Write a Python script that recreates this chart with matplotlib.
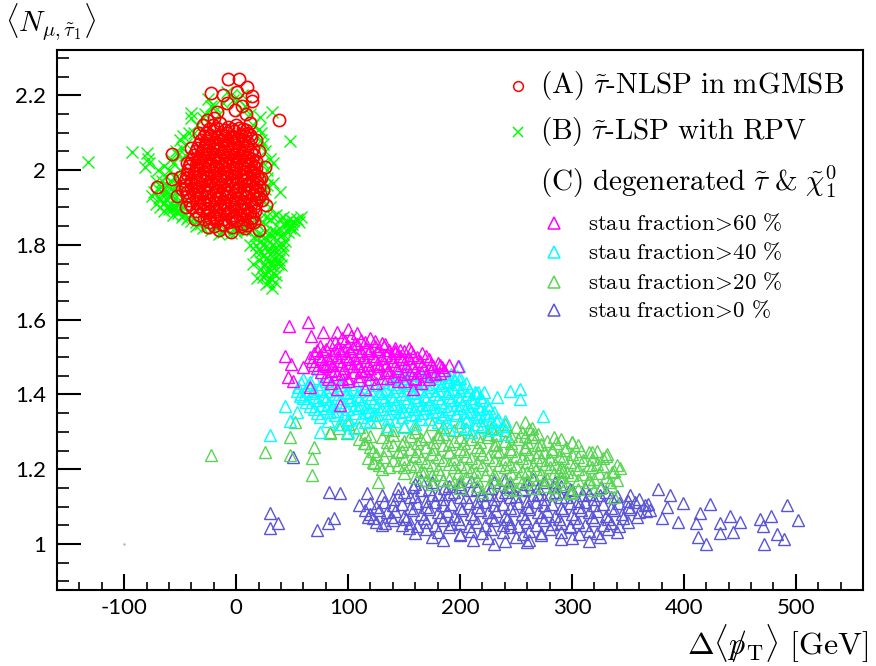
import matplotlib
matplotlib.use("Agg")
import matplotlib.pyplot as plt
from matplotlib.lines import Line2D
from matplotlib.ticker import MultipleLocator

plt.rcParams['mathtext.fontset'] = 'cm'

# ---------------- data (x = Delta<pT> [GeV], y = <N>) ----------------
red_A = [
    (-7,2.243),(3,2.243),(-22,2.206),(-12,2.202),(1,2.209),(10,2.223),(14,2.198),(14,2.184),(38,2.133),
    (-71,1.955),(-57,2.042),(27,1.906),(-8,2.178),(-17,2.156),(-1,2.160),(12,2.126),(-26,2.134),(18,2.080),
    (26,2.009),(24,1.947),(20,1.840),(-5,1.835),(-25,1.848),(-37,1.870),(-53,1.930),(-50,1.982),(-57,1.975),
    (-44,2.02),(-40,2.06),(-33,2.10),(5,2.17),(-20,2.14),(20,2.05),(22,1.98),(23,1.92),(16,1.86),(8,1.845),
    (-15,1.84),(-45,1.90),(-48,1.95),(-30,2.12),(9,2.15),
    (-21,2.12),(-14,2.125),(-7,2.115),(0,2.12),(6,2.11),
    (-27,2.10),(-20,2.105),(-13,2.095),(-8,2.10),(-2,2.105),(4,2.095),(10,2.10),
    (-31,2.08),(-25,2.085),(-18,2.075),(-12,2.08),(-5,2.085),(1,2.075),(7,2.08),(13,2.085),
    (-35,2.06),(-28,2.065),(-21,2.055),(-15,2.06),(-9,2.065),(-3,2.055),(3,2.06),(9,2.065),(15,2.055),
    (-38,2.04),(-31,2.045),(-25,2.035),(-19,2.04),(-13,2.045),(-7,2.035),(-1,2.04),(5,2.045),(11,2.035),(16,2.04),
    (-41,2.02),(-34,2.025),(-28,2.015),(-22,2.02),(-16,2.025),(-10,2.015),(-4,2.02),(2,2.025),(8,2.015),(13,2.02),(18,2.025),
    (-43,2.00),(-36,2.005),(-30,1.995),(-24,2.00),(-18,2.005),(-12,1.995),(-6,2.00),(0,2.005),(6,1.995),(12,2.00),(18,2.005),
    (-45,1.98),(-38,1.985),(-32,1.975),(-26,1.98),(-20,1.985),(-14,1.975),(-8,1.98),(-2,1.985),(4,1.975),(10,1.98),(16,1.985),(20,1.975),
    (-46,1.96),(-40,1.965),(-33,1.955),(-27,1.96),(-21,1.965),(-15,1.955),(-9,1.96),(-3,1.965),(3,1.955),(9,1.96),(15,1.965),(20,1.955),
    (-44,1.94),(-37,1.945),(-31,1.935),(-25,1.94),(-19,1.945),(-13,1.935),(-7,1.94),(-1,1.945),(5,1.935),(11,1.94),(17,1.945),(21,1.935),
    (-42,1.92),(-36,1.925),(-30,1.915),(-24,1.92),(-18,1.925),(-12,1.915),(-6,1.92),(0,1.925),(6,1.915),(12,1.92),(18,1.925),
    (-39,1.90),(-32,1.905),(-26,1.895),(-20,1.90),(-14,1.905),(-8,1.895),(-2,1.90),(4,1.905),(10,1.895),(16,1.90),
    (-33,1.88),(-26,1.885),(-20,1.875),(-14,1.88),(-8,1.885),(-2,1.875),(4,1.88),(10,1.885),(15,1.875),
    (-24,1.86),(-18,1.865),(-12,1.855),(-6,1.86),(0,1.865),(6,1.855),(12,1.86),
]
red_A_more = [
    (-24,2.11),(-17,2.112),(-10,2.108),(-4,2.11),(3,2.113),(9,2.107),
    (-29,2.09),(-23,2.093),(-16,2.088),(-10,2.09),(-4,2.092),(2,2.087),(8,2.09),(12,2.093),
    (-33,2.07),(-27,2.072),(-20,2.068),(-14,2.07),(-7,2.073),(-1,2.067),(5,2.07),(11,2.072),
    (-36,2.05),(-30,2.053),(-23,2.048),(-17,2.05),(-11,2.052),(-5,2.047),(1,2.05),(7,2.053),(13,2.048),
    (-39,2.03),(-33,2.032),(-27,2.028),(-21,2.03),(-15,2.033),(-9,2.027),(-3,2.03),(3,2.032),(9,2.028),(14,2.03),
    (-42,2.01),(-36,2.013),(-30,2.008),(-24,2.01),(-18,2.012),(-12,2.007),(-6,2.01),(0,2.013),(6,2.008),(11,2.01),(16,2.012),
    (-44,1.99),(-38,1.992),(-32,1.988),(-26,1.99),(-20,1.993),(-14,1.987),(-8,1.99),(-2,1.992),(4,1.988),(10,1.99),(15,1.993),(19,1.987),
    (-46,1.97),(-40,1.973),(-34,1.968),(-28,1.97),(-22,1.972),(-16,1.967),(-10,1.97),(-4,1.973),(2,1.968),(8,1.97),(14,1.972),(19,1.967),
    (-46,1.95),(-40,1.952),(-34,1.948),(-28,1.95),(-22,1.953),(-16,1.947),(-10,1.95),(-4,1.952),(2,1.948),(8,1.95),(14,1.953),(19,1.947),
    (-44,1.93),(-38,1.933),(-32,1.928),(-26,1.93),(-20,1.932),(-14,1.927),(-8,1.93),(-2,1.933),(4,1.928),(10,1.93),(16,1.932),(20,1.927),
    (-41,1.91),(-35,1.912),(-29,1.908),(-23,1.91),(-17,1.913),(-11,1.907),(-5,1.91),(1,1.912),(7,1.908),(13,1.91),(18,1.913),
    (-36,1.89),(-30,1.893),(-24,1.888),(-18,1.89),(-12,1.892),(-6,1.887),(0,1.89),(6,1.893),(12,1.888),(17,1.89),
    (-29,1.87),(-23,1.872),(-17,1.868),(-11,1.87),(-5,1.873),(1,1.867),(7,1.87),(13,1.872),
    (-20,1.85),(-12,1.852),(-4,1.848),(4,1.85),(10,1.852),
]

green_B = [
    (-132,2.022),(-93,2.049),(-80,2.045),(-78,2.018),(-81,2.009),(-79,2.030),(48,2.078),(-40,2.152),(-40,2.140),
    (-3,2.187),(32,2.156),(21,2.143),(39,1.942),(33,1.965),(5,2.20),(-20,2.17),(-35,2.12),(-38,2.10),(-45,2.07),
    (-30,2.14),(-75,1.93),(-72,1.91),(-68,1.90),(-64,1.89),(-60,1.895),(-56,1.88),(-52,1.885),(-48,1.875),
    (-44,1.87),(-40,1.865),(-36,1.86),(-70,1.95),(-66,1.94),(-62,1.92),(-58,1.91),(-54,1.90),(-50,1.92),
    (-66,1.97),(-62,1.96),(-58,1.95),(-55,1.98),(-60,2.00),(-56,2.02),(-52,2.04),(-48,2.06),(-50,2.00),
    (-64,2.01),(-70,2.00),(-72,1.97),(-42,2.10),(-32,1.855),(-26,1.85),(-18,1.845),(-10,1.84),(-2,1.845),
    (4,1.85),(12,1.855),(-15,1.83),(-5,1.832),(8,1.84),(22,1.92),(26,1.95),(28,1.98),(24,2.02),(26,2.05),
    (22,2.08),(20,2.11),(30,1.90),(28,2.00),(33,2.02),(-28,2.15),(-22,2.17),(-12,2.18),(-5,2.20),(2,2.19),
    (8,2.17),(12,2.15),(-15,2.15),(5,2.16),(-8,2.21),(15,2.12),(-25,2.19),
    (18,1.86),(24,1.86),(30,1.87),(36,1.88),(42,1.875),(48,1.87),(54,1.87),(58,1.875),(50,1.855),(44,1.85),
    (38,1.845),(32,1.84),(26,1.835),(20,1.83),(16,1.82),(22,1.81),(28,1.815),(34,1.82),(40,1.825),(46,1.835),
    (52,1.84),(20,1.79),(26,1.795),(32,1.80),(38,1.80),(44,1.81),(24,1.77),(30,1.775),(36,1.78),(42,1.785),
    (20,1.76),(26,1.75),(32,1.755),(38,1.76),(22,1.735),(28,1.73),(34,1.74),(40,1.745),(24,1.715),(30,1.71),
    (36,1.72),(19,1.71),(27,1.695),(32,1.685),(35,1.70),(15,1.75),(18,1.78),(12,1.80),(14,1.84),(-60,1.93),
    (-50,1.96),(-46,2.04),(-68,1.92),(-40,1.88),(-54,1.94),
    (-73,1.94),(-69,1.925),(-65,1.91),(-61,1.905),(-57,1.895),(-53,1.89),(-49,1.895),(-47,1.88),(-43,1.875),
    (-67,1.955),(-63,1.945),(-59,1.935),(-55,1.925),(-51,1.91),(-45,1.92),(-63,1.985),(-59,1.97),(-53,1.96),
    (-58,2.03),(-54,2.05),(-50,2.08),(-47,2.09),(-36,1.85),(-30,1.845),(-22,1.84),(-12,1.835),(0,1.835),
    (6,1.845),(10,1.84),(20,1.87),(27,1.875),(33,1.875),(39,1.87),(45,1.86),(51,1.865),(56,1.86),(23,1.825),
    (30,1.83),(36,1.835),(42,1.83),(48,1.845),(18,1.80),(24,1.80),(30,1.79),(36,1.795),(42,1.80),(22,1.78),
    (28,1.765),(34,1.765),(40,1.77),(25,1.745),(31,1.745),(37,1.75),(26,1.72),(33,1.725),(29,1.70),
    (25,1.93),(28,1.96),(30,2.03),(24,2.07),(22,2.10),
]

tri_60 = [
    (47,1.583),(64,1.594),(44,1.502),(49,1.481),(46,1.447),(51,1.437),(60,1.473),(66,1.420),(93,1.372),
    (67,1.557),(78,1.568),(90,1.566),(132,1.530),(142,1.517),(156,1.517),(198,1.476),(184,1.472),(158,1.414),
    (115,1.415),(90,1.414),(100,1.575),(108,1.565),
    (95,1.55),(103,1.555),(112,1.545),(120,1.55),
    (75,1.53),(84,1.535),(92,1.525),(100,1.53),(108,1.535),(116,1.525),(124,1.53),(133,1.535),(142,1.525),
    (70,1.51),(78,1.515),(86,1.505),(94,1.51),(102,1.515),(110,1.505),(118,1.51),(126,1.515),(134,1.505),(142,1.51),(150,1.515),(158,1.505),(166,1.51),
    (68,1.49),(76,1.495),(84,1.485),(92,1.49),(100,1.495),(108,1.485),(116,1.49),(124,1.495),(132,1.485),(140,1.49),(148,1.495),(156,1.485),(164,1.49),(172,1.495),(180,1.485),
    (72,1.47),(80,1.475),(88,1.465),(96,1.47),(104,1.475),(112,1.465),(120,1.47),(128,1.475),(136,1.465),(144,1.47),(152,1.475),(160,1.465),(168,1.47),(176,1.475),(186,1.465),
    (80,1.45),(90,1.455),(100,1.445),(110,1.45),(120,1.455),(130,1.445),(140,1.45),(150,1.455),(160,1.445),(170,1.45),(178,1.455),
    (85,1.43),(100,1.435),(125,1.43),(145,1.435),(165,1.43),
    (88,1.54),(97,1.543),(106,1.538),(115,1.54),(124,1.542),(130,1.537),
    (72,1.52),(80,1.522),(88,1.518),(96,1.52),(104,1.523),(112,1.517),(120,1.52),(128,1.522),(137,1.518),(146,1.52),(154,1.523),
    (66,1.50),(74,1.502),(82,1.498),(90,1.50),(98,1.503),(106,1.497),(114,1.50),(122,1.502),(130,1.498),(138,1.50),(146,1.503),(154,1.497),(162,1.50),(170,1.502),
    (70,1.48),(78,1.482),(86,1.478),(94,1.48),(102,1.483),(110,1.477),(118,1.48),(126,1.482),(134,1.478),(142,1.48),(150,1.483),(158,1.477),(166,1.48),(174,1.482),(182,1.478),(190,1.48),
    (76,1.46),(85,1.462),(95,1.458),(105,1.46),(115,1.463),(125,1.457),(135,1.46),(145,1.462),(155,1.458),(165,1.46),(174,1.463),(182,1.457),
    (82,1.44),(95,1.442),(110,1.438),(120,1.44),(135,1.443),(150,1.437),(160,1.44),(172,1.442),
]

tri_40 = [
    (30,1.291),(44,1.368),(54,1.354),(57,1.395),(274,1.341),(254,1.414),(245,1.410),(254,1.388),(233,1.394),
    (221,1.407),(213,1.407),(48,1.33),(100,1.30),(92,1.32),(75,1.30),(199,1.476),
    (150,1.46),(160,1.465),(170,1.455),(178,1.46),(186,1.465),(192,1.455),
    (60,1.44),(70,1.445),(80,1.435),(140,1.44),(150,1.445),(160,1.435),(170,1.44),(180,1.445),(188,1.435),(195,1.44),(200,1.445),
    (55,1.42),(64,1.425),(74,1.415),(84,1.42),(94,1.425),(104,1.415),(114,1.42),(124,1.425),(134,1.415),(144,1.42),(154,1.425),(164,1.415),(174,1.42),(184,1.425),(194,1.415),(202,1.42),
    (58,1.40),(68,1.405),(78,1.395),(88,1.40),(98,1.405),(108,1.395),(118,1.40),(128,1.405),(138,1.395),(148,1.40),(158,1.405),(168,1.395),(178,1.40),(188,1.405),(198,1.395),(206,1.40),(214,1.405),
    (62,1.38),(72,1.385),(82,1.375),(92,1.38),(102,1.385),(112,1.375),(122,1.38),(132,1.385),(142,1.375),(152,1.38),(162,1.385),(172,1.375),(182,1.38),(192,1.385),(202,1.375),(212,1.38),(220,1.385),
    (70,1.36),(80,1.365),(90,1.355),(100,1.36),(110,1.365),(120,1.355),(130,1.36),(140,1.365),(150,1.355),(160,1.36),(170,1.365),(180,1.355),(190,1.36),(200,1.365),(210,1.355),(218,1.36),(226,1.365),
    (75,1.34),(88,1.345),(100,1.335),(112,1.34),(124,1.345),(136,1.335),(148,1.34),(160,1.345),(172,1.335),(184,1.34),(196,1.345),(206,1.335),(216,1.34),(226,1.345),(234,1.335),
    (95,1.32),(115,1.325),(135,1.315),(160,1.32),(180,1.325),(200,1.315),(215,1.32),(228,1.325),(238,1.315),
    (210,1.30),(225,1.305),(240,1.295),
    (145,1.45),(155,1.452),(165,1.448),(175,1.45),(183,1.453),(190,1.447),(197,1.45),
    (58,1.43),(66,1.432),(76,1.428),(86,1.43),(96,1.433),(106,1.427),(118,1.43),(130,1.432),(140,1.428),(150,1.43),(160,1.433),(170,1.427),(180,1.43),(190,1.432),(198,1.428),(205,1.43),
    (54,1.41),(62,1.412),(70,1.408),(80,1.41),(90,1.413),(100,1.407),(110,1.41),(120,1.412),(130,1.408),(140,1.41),(150,1.413),(160,1.407),(170,1.41),(180,1.412),(190,1.408),(200,1.41),(208,1.413),(216,1.407),
    (60,1.39),(70,1.392),(80,1.388),(90,1.39),(100,1.393),(110,1.387),(120,1.39),(130,1.392),(140,1.388),(150,1.39),(160,1.393),(170,1.387),(180,1.39),(190,1.392),(200,1.388),(210,1.39),(218,1.393),
    (66,1.37),(76,1.372),(86,1.368),(96,1.37),(106,1.373),(116,1.367),(126,1.37),(136,1.372),(146,1.368),(156,1.37),(166,1.373),(176,1.367),(186,1.37),(196,1.372),(206,1.368),(216,1.37),(224,1.373),
    (72,1.35),(84,1.352),(96,1.348),(106,1.35),(116,1.353),(126,1.347),(136,1.35),(146,1.352),(156,1.348),(166,1.35),(176,1.353),(186,1.347),(196,1.35),(206,1.352),(214,1.348),(222,1.35),(230,1.353),
    (82,1.33),(100,1.332),(120,1.328),(142,1.33),(165,1.333),(188,1.327),(205,1.33),(220,1.332),(232,1.328),(240,1.33),
    (105,1.31),(150,1.312),(190,1.308),(205,1.31),(220,1.313),(232,1.307),
]

tri_20 = [
    (-22,1.238),(26,1.247),(48,1.285),(53,1.327),(68,1.229),(68,1.184),(70,1.260),(84,1.296),(99,1.296),
    (114,1.269),(123,1.216),(127,1.167),(137,1.206),(264,1.309),(300,1.274),(318,1.247),(331,1.241),
    (343,1.202),(340,1.171),(338,1.127),(298,1.136),(289,1.198),(48,1.238),
    (100,1.32),(125,1.325),(150,1.315),(175,1.32),(200,1.325),(220,1.315),(240,1.32),(258,1.325),
    (84,1.30),(115,1.295),(140,1.305),(160,1.30),(180,1.295),(195,1.305),(210,1.30),(225,1.295),(240,1.305),(255,1.30),(265,1.295),
    (110,1.28),(130,1.285),(150,1.275),(165,1.28),(180,1.285),(195,1.275),(210,1.28),(225,1.285),(240,1.275),(252,1.28),(264,1.285),(278,1.275),(290,1.28),
    (120,1.26),(140,1.265),(155,1.255),(170,1.26),(185,1.265),(200,1.255),(215,1.26),(230,1.265),(245,1.255),(258,1.26),(270,1.265),(282,1.255),(295,1.26),(305,1.265),
    (125,1.24),(145,1.245),(160,1.235),(175,1.24),(190,1.245),(205,1.235),(220,1.24),(235,1.245),(250,1.235),(262,1.24),(275,1.245),(288,1.235),(300,1.24),(315,1.245),(330,1.235),
    (122,1.22),(140,1.225),(155,1.215),(170,1.22),(185,1.225),(200,1.215),(215,1.22),(230,1.225),(245,1.215),(260,1.22),(272,1.225),(285,1.215),(298,1.22),(310,1.225),(322,1.215),
    (130,1.20),(150,1.205),(165,1.195),(180,1.20),(195,1.205),(210,1.195),(225,1.20),(240,1.205),(255,1.195),(268,1.20),(280,1.205),(292,1.195),(305,1.20),(318,1.205),(338,1.195),
    (160,1.18),(175,1.185),(190,1.175),(205,1.18),(222,1.185),(238,1.175),(252,1.18),(265,1.185),(278,1.175),(290,1.18),(300,1.185),(315,1.175),(330,1.18),
    (175,1.16),(195,1.165),(215,1.155),(235,1.16),(255,1.165),(275,1.155),(295,1.16),(315,1.165),(335,1.155),
    (220,1.14),(250,1.145),(285,1.135),(300,1.14),(320,1.145),
    (92,1.31),(110,1.312),(135,1.308),(160,1.31),(185,1.313),(205,1.307),(228,1.31),(250,1.312),(262,1.308),
    (120,1.29),(140,1.292),(155,1.288),(170,1.29),(185,1.293),(200,1.287),(215,1.29),(232,1.292),(246,1.288),(258,1.29),(270,1.293),(284,1.287),
    (115,1.27),(135,1.272),(148,1.268),(162,1.27),(176,1.273),(190,1.267),(204,1.27),(218,1.272),(232,1.268),(246,1.27),(260,1.273),(272,1.267),(286,1.27),(300,1.272),
    (122,1.25),(134,1.252),(148,1.248),(162,1.25),(176,1.253),(190,1.247),(204,1.25),(218,1.252),(232,1.248),(246,1.25),(258,1.253),(270,1.247),(282,1.25),(294,1.252),(308,1.248),(322,1.25),
    (118,1.23),(132,1.232),(150,1.228),(165,1.23),(180,1.233),(195,1.227),(210,1.23),(225,1.232),(240,1.228),(255,1.23),(268,1.233),(280,1.227),(292,1.23),(305,1.232),(318,1.228),(328,1.23),
    (128,1.21),(145,1.212),(160,1.208),(175,1.21),(190,1.213),(205,1.207),(220,1.21),(235,1.212),(250,1.208),(265,1.21),(276,1.213),(290,1.207),(302,1.21),(315,1.212),(328,1.208),(340,1.21),
    (150,1.19),(168,1.192),(182,1.188),(198,1.19),(214,1.193),(230,1.187),(246,1.19),(260,1.192),(272,1.188),(284,1.19),(296,1.193),(310,1.187),(324,1.19),(336,1.192),
    (170,1.17),(185,1.172),(200,1.168),(215,1.17),(230,1.173),(245,1.167),(260,1.17),(275,1.172),(290,1.168),(305,1.17),(320,1.173),(334,1.167),
    (200,1.15),(225,1.152),(245,1.148),(265,1.15),(285,1.153),(305,1.147),(325,1.15),
]

tri_0 = [
    (30,1.082),(30,1.042),(37,1.057),(72,1.037),(82,1.055),(87,1.069),(83,1.140),(93,1.136),(110,1.104),
    (117,1.137),(118,1.073),(133,1.055),(154,1.042),(51,1.233),(377,1.146),(388,1.131),(399,1.110),
    (423,1.107),(414,1.082),(411,1.055),(413,1.019),(420,1.000),(441,1.074),(450,1.059),(432,1.055),
    (432,1.030),(444,1.033),(468,1.067),(471,1.048),(472,1.000),(478,1.075),(483,1.027),(489,1.013),
    (492,1.104),(502,1.064),(360,1.12),(370,1.09),(380,1.07),(395,1.06),(385,1.10),
    (160,1.16),(175,1.165),(190,1.155),(200,1.16),(230,1.165),(245,1.155),(260,1.16),(275,1.165),(290,1.155),
    (150,1.14),(165,1.145),(180,1.135),(195,1.14),(210,1.145),(225,1.135),(240,1.14),(255,1.145),(270,1.135),(285,1.14),(300,1.145),(315,1.135),(330,1.14),
    (140,1.12),(155,1.125),(170,1.115),(185,1.12),(200,1.125),(215,1.115),(230,1.12),(245,1.125),(260,1.115),(275,1.12),(290,1.125),(305,1.115),(320,1.12),(335,1.125),(350,1.115),
    (125,1.10),(140,1.105),(155,1.095),(170,1.10),(185,1.105),(200,1.095),(215,1.10),(230,1.105),(245,1.095),(260,1.10),(275,1.105),(290,1.095),(305,1.10),(320,1.105),(335,1.095),(350,1.10),(365,1.105),
    (120,1.08),(135,1.085),(150,1.075),(165,1.08),(180,1.085),(195,1.075),(210,1.08),(225,1.085),(240,1.075),(255,1.08),(270,1.085),(285,1.075),(300,1.08),(315,1.085),(330,1.075),(345,1.08),(360,1.085),
    (125,1.06),(140,1.065),(155,1.055),(170,1.06),(185,1.065),(200,1.055),(215,1.06),(230,1.065),(245,1.055),(260,1.06),(275,1.065),(290,1.055),(305,1.06),(320,1.065),(335,1.055),(350,1.06),
    (170,1.04),(190,1.045),(210,1.035),(228,1.04),(245,1.045),(262,1.035),(280,1.04),(298,1.045),(315,1.035),(332,1.04),
    (175,1.02),(200,1.025),(225,1.015),(250,1.02),(272,1.025),(300,1.015),(325,1.02),
    (230,1.00),(260,1.005),
    (165,1.17),(185,1.172),(210,1.168),(240,1.17),(265,1.173),(285,1.167),
    (145,1.15),(158,1.152),(172,1.148),(186,1.15),(200,1.153),(215,1.147),(228,1.15),(242,1.152),(256,1.148),(270,1.15),(284,1.153),(298,1.147),(312,1.15),(326,1.152),
    (130,1.13),(145,1.132),(160,1.128),(175,1.13),(190,1.133),(205,1.127),(220,1.13),(235,1.132),(250,1.128),(265,1.13),(280,1.133),(295,1.127),(310,1.13),(325,1.132),(340,1.128),(352,1.13),
    (120,1.11),(132,1.112),(148,1.108),(162,1.11),(178,1.113),(192,1.107),(208,1.11),(222,1.112),(238,1.108),(252,1.11),(268,1.113),(282,1.107),(298,1.11),(312,1.112),(328,1.108),(342,1.11),(356,1.113),(368,1.107),
    (115,1.09),(128,1.092),(142,1.088),(158,1.09),(172,1.093),(188,1.087),(202,1.09),(218,1.092),(232,1.088),(248,1.09),(262,1.093),(278,1.087),(292,1.09),(308,1.092),(322,1.088),(338,1.09),(352,1.093),(366,1.087),
    (122,1.07),(138,1.072),(152,1.068),(168,1.07),(182,1.073),(198,1.067),(212,1.07),(228,1.072),(242,1.068),(258,1.07),(272,1.073),(288,1.067),(302,1.07),(318,1.072),(332,1.068),(346,1.07),(358,1.073),
    (130,1.05),(148,1.052),(162,1.048),(178,1.05),(192,1.053),(208,1.047),(222,1.05),(238,1.052),(252,1.048),(268,1.05),(282,1.053),(298,1.047),(312,1.05),(328,1.052),(342,1.048),
    (160,1.03),(180,1.032),(200,1.028),(220,1.03),(238,1.033),(256,1.027),(272,1.03),(290,1.032),(306,1.028),(322,1.03),(340,1.033),
    (185,1.01),(212,1.012),(240,1.008),(262,1.01),(290,1.013),(315,1.007),
]

x_ticks = [-100, 0, 100, 200, 300, 400, 500]
y_ticks = [1.0, 1.2, 1.4, 1.6, 1.8, 2.0, 2.2]
x_ticklabels = ['-100', '0', '100', '200', '300', '400', '500']
y_ticklabels = ['1', '1.2', '1.4', '1.6', '1.8', '2', '2.2']

legend_labels = [
    r'$\mathrm{(A)}\ \tilde{\tau}\text{-}\mathrm{NLSP\ in\ mGMSB}$',
    r'$\mathrm{(B)}\ \tilde{\tau}\text{-}\mathrm{LSP\ with\ RPV}$',
    r'$\mathrm{(C)\ degenerated}\ \tilde{\tau}\ $&$\ \tilde{\chi}^0_1$',
]
frac_labels = [r'$\mathrm{stau\ fraction}\!>\!\mathrm{60\ \%}$',
               r'$\mathrm{stau\ fraction}\!>\!\mathrm{40\ \%}$',
               r'$\mathrm{stau\ fraction}\!>\!\mathrm{20\ \%}$',
               r'$\mathrm{stau\ fraction}\!>\!\mathrm{0\ \%}$']

# ---------------- styles ----------------
C_RED = '#ff0000'
C_GRN = '#00ff00'
C_MAG = '#ff00ff'
C_CYA = '#00ffff'
C_G8 = '#59d454'
C_B9 = '#5954d8'

W, H = 876, 666
fig = plt.figure(figsize=(W/100, H/100), dpi=100)
ax = fig.add_axes([57/W, 1-590/H, (863-57)/W, (590-50)/H])

def xy(pts):
    return [p[0] for p in pts], [p[1] for p in pts]

gx, gy = xy(green_B)
ax.plot(gx, gy, ls='none', marker='x', ms=8.5, mew=1.0, color=C_GRN)
rx, ry = xy(red_A + red_A_more)
ax.plot(rx, ry, ls='none', marker='o', ms=8.8, mew=1.2, mfc='none', mec=C_RED)

for pts, col in [(tri_0, C_B9), (tri_20, C_G8), (tri_40, C_CYA), (tri_60, C_MAG)]:
    tx, ty = xy(pts)
    ax.plot(tx, ty, ls='none', marker='^', ms=9, mew=1.0, mfc='none', mec=col)

ax.plot([-100], [1.0], ls='none', marker='.', ms=1.5, color='0.7')

ax.set_xlim(-160, 560)
ax.set_ylim(0.877, 2.321)

for s in ax.spines.values():
    s.set_linewidth(1.5)
ax.set_xticks(x_ticks)
ax.set_xticklabels(x_ticklabels)
ax.set_yticks(y_ticks)
ax.set_yticklabels(y_ticklabels)
ax.xaxis.set_minor_locator(MultipleLocator(20))
ax.yaxis.set_minor_locator(MultipleLocator(0.05))
ax.tick_params(axis='x', which='major', direction='in', length=11.5, width=1.5, pad=6,
               labelsize=16, top=False)
ax.tick_params(axis='x', which='minor', direction='in', length=6, width=1.2, top=False)
ax.tick_params(axis='y', which='major', direction='in', length=17, width=1.5, pad=8,
               labelsize=16, right=False)
ax.tick_params(axis='y', which='minor', direction='in', length=8.5, width=1.2, right=False)
for lab in ax.get_xticklabels() + ax.get_yticklabels():
    lab.set_fontfamily('Lato')

# axis titles
fig.text(5/W, 1-31/H, r'$\langle N_{\mu,\tilde{\tau}_1}\rangle$', fontsize=21, va='baseline', ha='left')
fig.text(868/W, 1-655/H, r'$\Delta\langle p\!\!\!/_{\mathrm{T}}\rangle\ \mathrm{[GeV]}$', fontsize=23,
         va='baseline', ha='right')

# legend
def fx(px):
    return px / W
def fy(py):
    return 1 - py / H

fig.add_artist(Line2D([fx(518)], [fy(86)], transform=fig.transFigure, ls='none', marker='o', ms=7,
                      mfc='none', mec=C_RED, mew=1.1))
fig.add_artist(Line2D([fx(518)], [fy(132)], transform=fig.transFigure, ls='none', marker='x', ms=7,
                      color=C_GRN, mew=1.1))
for lab, py in zip(legend_labels, [86, 132, 182]):
    fig.text(fx(540), fy(py), lab, fontsize=21, va='center', ha='left', fontfamily='cmr10')
for lab, py, col in zip(frac_labels, [223, 252, 282, 310], [C_MAG, C_CYA, C_G8, C_B9]):
    fig.add_artist(Line2D([fx(554)], [fy(py)], transform=fig.transFigure, ls='none', marker='^', ms=8,
                          mfc='none', mec=col, mew=1.1))
    fig.text(fx(588), fy(py), lab, fontsize=16.5, va='center', ha='left')

fig.savefig('out.png', dpi=100)
